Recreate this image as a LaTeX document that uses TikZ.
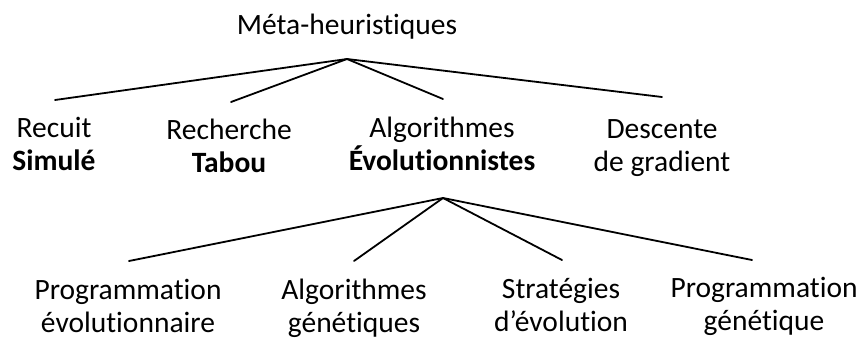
\documentclass[tikz,border=0pt]{standalone}
\usepackage{fontspec}
\setmainfont{Carlito}[Ligatures={NoCommon}]
\begin{document}
\begin{tikzpicture}[x=1pt,y=-1pt,
  lbl/.style={inner sep=0pt, align=center, anchor=base,
    font=\fontsize{29.5}{33}\selectfont},
  branch/.style={line width=1.8pt, line cap=round}]
\useasboundingbox (0,0) rectangle (861,341);

% root
\node[lbl] (meta) at (347,34) {Méta-heuristiques};

% first level
\node[lbl] (recuit)  at (54,170)  {Recuit\\\textbf{Simulé}};
\node[lbl] (tabou)   at (229,172) {Recherche\\\textbf{Tabou}};
\node[lbl] (algo)    at (442,170) {Algorithmes\\\textbf{Évolutionnistes}};
\node[lbl] (descent) at (662,171) {Descente\\de gradient};

% second level
\node[lbl] (progevo) at (128,332) {Programmation\\évolutionnaire};
\node[lbl] (algogen) at (354,332) {Algorithmes\\génétiques};
\node[lbl] (strat)   at (561,331) {Stratégies\\d’évolution};
\node[lbl] (proggen) at (764,330) {Programmation\\génétique};

% branching points and branch ends
\coordinate (j1) at (347,59);
\coordinate (j2) at (443,198);
\coordinate (e-recuit)  at (55,100);
\coordinate (e-tabou)   at (231,102);
\coordinate (e-algo)    at (443,99);
\coordinate (e-descent) at (662,97);
\coordinate (e-progevo) at (129,261);
\coordinate (e-algogen) at (354,261);
\coordinate (e-strat)   at (562,260);
\coordinate (e-proggen) at (752,260);

\foreach \t in {recuit,tabou,algo,descent}
  \draw[branch] (j1) -- (e-\t);
\foreach \t in {progevo,algogen,strat,proggen}
  \draw[branch] (j2) -- (e-\t);
\end{tikzpicture}
\end{document}
